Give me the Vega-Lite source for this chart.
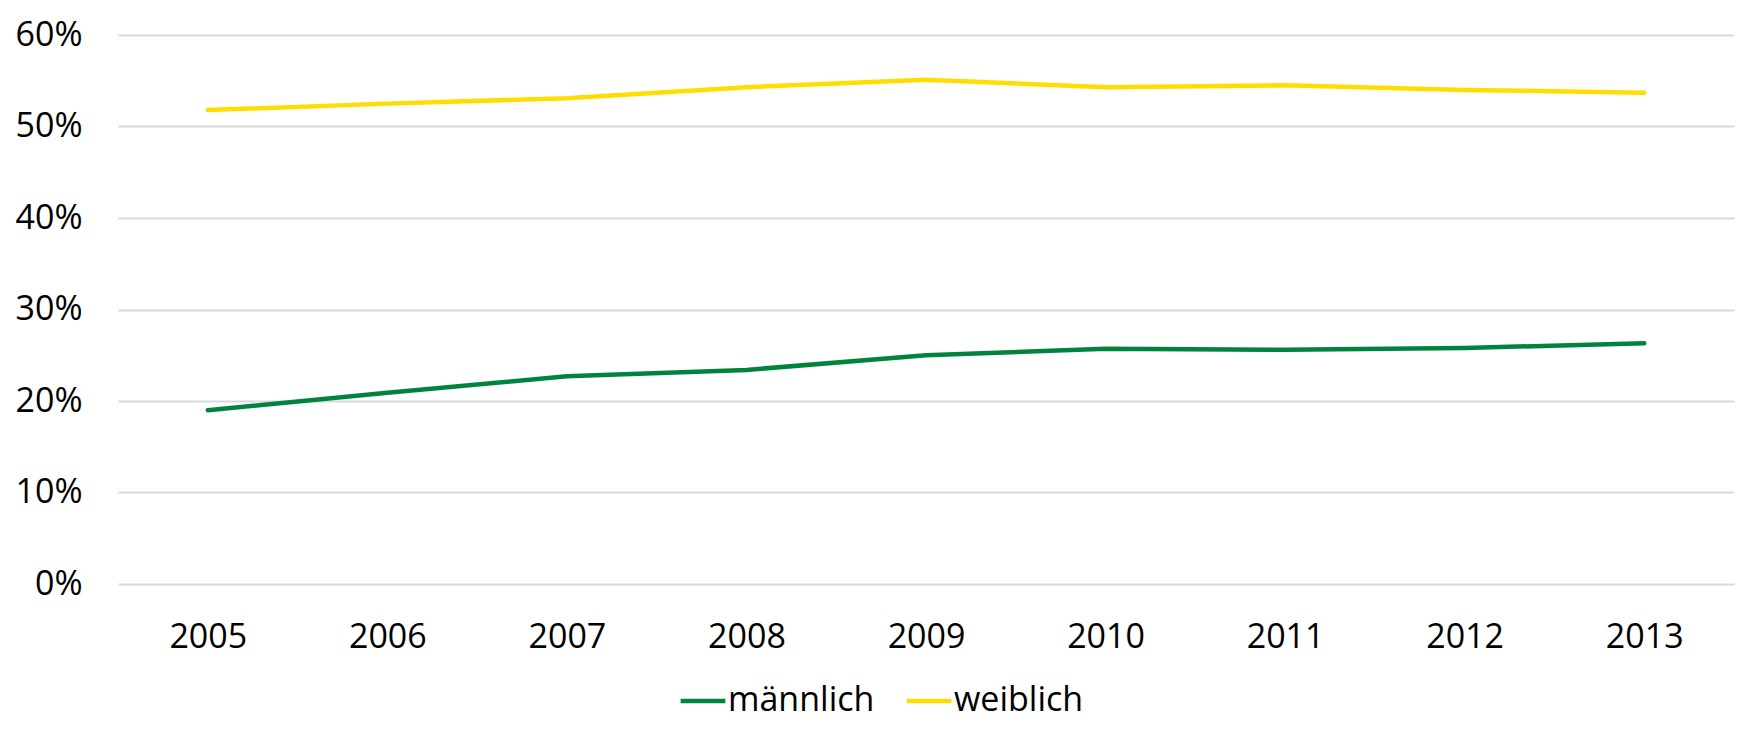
{
  "$schema": "https://vega.github.io/schema/vega-lite/v6.json",
  "autosize": {"type": "none"},
  "width": 1616,
  "height": 549,
  "padding": {"left": 118, "top": 35, "right": 26, "bottom": 159},
  "background": "white",
  "config": {
    "view": {"stroke": null},
    "font": "Open Sans"
  },
  "data": {
    "values": [
      {"Jahr": "2005", "Geschlecht": "männlich", "Anteil": 0.190},
      {"Jahr": "2006", "Geschlecht": "männlich", "Anteil": 0.209},
      {"Jahr": "2007", "Geschlecht": "männlich", "Anteil": 0.227},
      {"Jahr": "2008", "Geschlecht": "männlich", "Anteil": 0.234},
      {"Jahr": "2009", "Geschlecht": "männlich", "Anteil": 0.250},
      {"Jahr": "2010", "Geschlecht": "männlich", "Anteil": 0.257},
      {"Jahr": "2011", "Geschlecht": "männlich", "Anteil": 0.256},
      {"Jahr": "2012", "Geschlecht": "männlich", "Anteil": 0.258},
      {"Jahr": "2013", "Geschlecht": "männlich", "Anteil": 0.263},
      {"Jahr": "2005", "Geschlecht": "weiblich", "Anteil": 0.518},
      {"Jahr": "2006", "Geschlecht": "weiblich", "Anteil": 0.525},
      {"Jahr": "2007", "Geschlecht": "weiblich", "Anteil": 0.531},
      {"Jahr": "2008", "Geschlecht": "weiblich", "Anteil": 0.543},
      {"Jahr": "2009", "Geschlecht": "weiblich", "Anteil": 0.551},
      {"Jahr": "2010", "Geschlecht": "weiblich", "Anteil": 0.543},
      {"Jahr": "2011", "Geschlecht": "weiblich", "Anteil": 0.545},
      {"Jahr": "2012", "Geschlecht": "weiblich", "Anteil": 0.540},
      {"Jahr": "2013", "Geschlecht": "weiblich", "Anteil": 0.537}
    ]
  },
  "mark": {"type": "line", "strokeWidth": 4.5, "strokeCap": "round", "strokeJoin": "round"},
  "encoding": {
    "x": {
      "field": "Jahr",
      "type": "ordinal",
      "scale": {"type": "point", "padding": 0.5},
      "axis": {
        "title": null,
        "labelAngle": 0,
        "labelFontSize": 34,
        "labelColor": "#000000",
        "labelPadding": 36,
        "ticks": false,
        "domain": false,
        "grid": false
      }
    },
    "y": {
      "field": "Anteil",
      "type": "quantitative",
      "scale": {"domain": [0, 0.6], "nice": false},
      "axis": {
        "title": null,
        "format": ".0%",
        "values": [0, 0.1, 0.2, 0.3, 0.4, 0.5, 0.6],
        "labelFontSize": 34,
        "labelColor": "#000000",
        "labelPadding": 36,
        "ticks": false,
        "domain": false,
        "grid": true,
        "gridColor": "#d9d9d9",
        "gridWidth": 2
      }
    },
    "color": {
      "field": "Geschlecht",
      "type": "nominal",
      "scale": {"domain": ["männlich", "weiblich"], "range": ["#00843D", "#FFDD00"]},
      "legend": {
        "title": null,
        "orient": "none",
        "direction": "horizontal",
        "legendX": 560,
        "legendY": 641,
        "symbolType": "stroke",
        "symbolSize": 2000,
        "symbolStrokeWidth": 4.5,
        "labelFontSize": 34,
        "labelColor": "#000000",
        "labelOffset": 0,
        "columnPadding": 22
      }
    }
  }
}
